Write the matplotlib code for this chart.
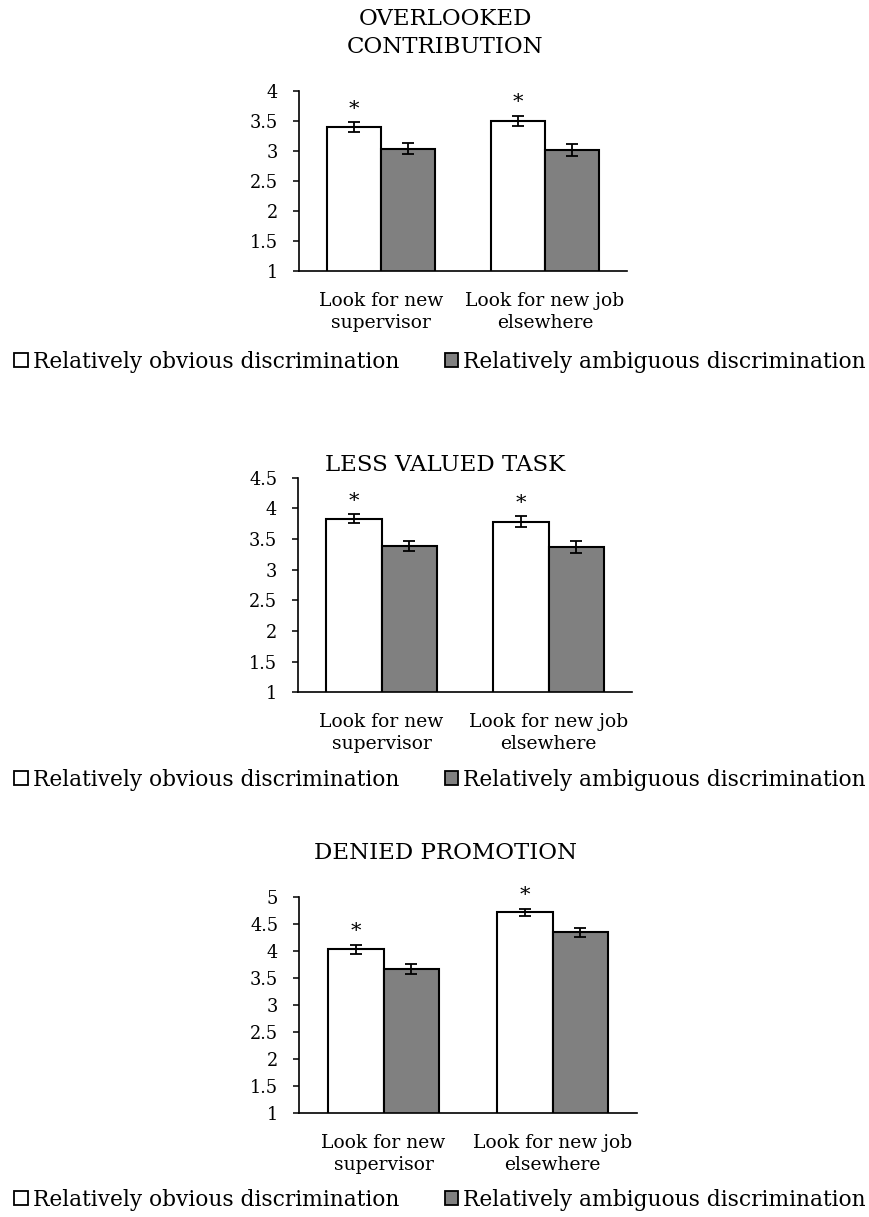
import matplotlib
matplotlib.use("Agg")
import matplotlib.pyplot as plt
from matplotlib.patches import Patch
import numpy as np

plt.rcParams["font.family"] = ["DejaVu Serif"]

categories = ["Look for new\nsupervisor", "Look for new job\nelsewhere"]
series_names = ["Relatively obvious discrimination",
                "Relatively ambiguous discrimination"]
titles = ["OVERLOOKED\nCONTRIBUTION", "LESS VALUED TASK", "DENIED PROMOTION"]

# means [obvious, ambiguous] per category
overlooked_obvious = [3.40, 3.50]
overlooked_ambig = [3.04, 3.01]
overlooked_obvious_err = [0.08, 0.09]
overlooked_ambig_err = [0.09, 0.10]

task_obvious = [3.83, 3.78]
task_ambig = [3.38, 3.37]
task_obvious_err = [0.07, 0.09]
task_ambig_err = [0.08, 0.09]

promo_obvious = [4.03, 4.71]
promo_ambig = [3.66, 4.34]
promo_obvious_err = [0.085, 0.07]
promo_ambig_err = [0.09, 0.08]

y_ticks = [
    [1, 1.5, 2, 2.5, 3, 3.5, 4],
    [1, 1.5, 2, 2.5, 3, 3.5, 4, 4.5],
    [1, 1.5, 2, 2.5, 3, 3.5, 4, 4.5, 5],
]
significant = [True, True]

W, H = 869, 1217
fig = plt.figure(figsize=(W / 100, H / 100), dpi=100)

# axes boxes in pixels: left, top, right, bottom
boxes = [(299, 91, 627, 271), (298, 477.7, 632, 692.3), (299, 896.7, 637, 1113.3)]
legend_y = [362, 780, 1200]
title_y = [33, 465, 853]
panels = [
    (overlooked_obvious, overlooked_ambig, overlooked_obvious_err, overlooked_ambig_err),
    (task_obvious, task_ambig, task_obvious_err, task_ambig_err),
    (promo_obvious, promo_ambig, promo_obvious_err, promo_ambig_err),
]

WHITE, GRAY = "#FFFFFF", "#808080"

for i, (obv, amb, obv_e, amb_e) in enumerate(panels):
    l, t, r, b = boxes[i]
    ax = fig.add_axes([l / W, 1 - b / H, (r - l) / W, (b - t) / H])
    x = np.arange(len(categories))
    bw = 0.33
    ekw = dict(elinewidth=1.3, capthick=1.3, ecolor="black")
    ax.bar(x - bw / 2, obv, bw, color=WHITE, edgecolor="black",
           linewidth=1.5, yerr=obv_e, capsize=4, error_kw=ekw, zorder=2)
    ax.bar(x + bw / 2, amb, bw, color=GRAY, edgecolor="black",
           linewidth=1.5, yerr=amb_e, capsize=4, error_kw=ekw, zorder=2)
    for j, sig in enumerate(significant):
        if sig:
            ax.text(x[j] - bw / 2, obv[j] + obv_e[j] + 0.06, "*",
                    ha="center", va="bottom", fontsize=15)
    ticks = y_ticks[i]
    ax.set_ylim(ticks[0], ticks[-1])
    ax.set_yticks(ticks)
    ax.set_yticklabels([f"{v:g}" for v in ticks], fontsize=12.8)
    ax.set_xlim(-0.5, 1.5)
    ax.set_xticks(x)
    ax.set_xticklabels(categories, fontsize=13.5, linespacing=1.3)
    ax.tick_params(axis="x", length=0, pad=15)
    ax.tick_params(axis="y", length=4, width=1.1, direction="out", pad=11)
    for s in ("top", "right"):
        ax.spines[s].set_visible(False)
    ax.spines["left"].set_linewidth(1.2)
    ax.spines["bottom"].set_linewidth(1.2)
    ax.set_facecolor("none")

    fig.text(445 / W, 1 - title_y[i] / H, titles[i], ha="center", va="center",
             fontsize=16.5, linespacing=1.4)

    handles = [Patch(facecolor=WHITE, edgecolor="black", linewidth=1.3),
               Patch(facecolor=GRAY, edgecolor="black", linewidth=1.3)]
    fig.legend(handles, series_names, loc="center",
               bbox_to_anchor=(440 / W, 1 - legend_y[i] / H), ncol=2,
               frameon=False, fontsize=15.7, handlelength=0.62,
               handleheight=0.62, handletextpad=0.22, columnspacing=2.1,
               borderpad=0)

fig.savefig("out.png", dpi=100, facecolor="white")
